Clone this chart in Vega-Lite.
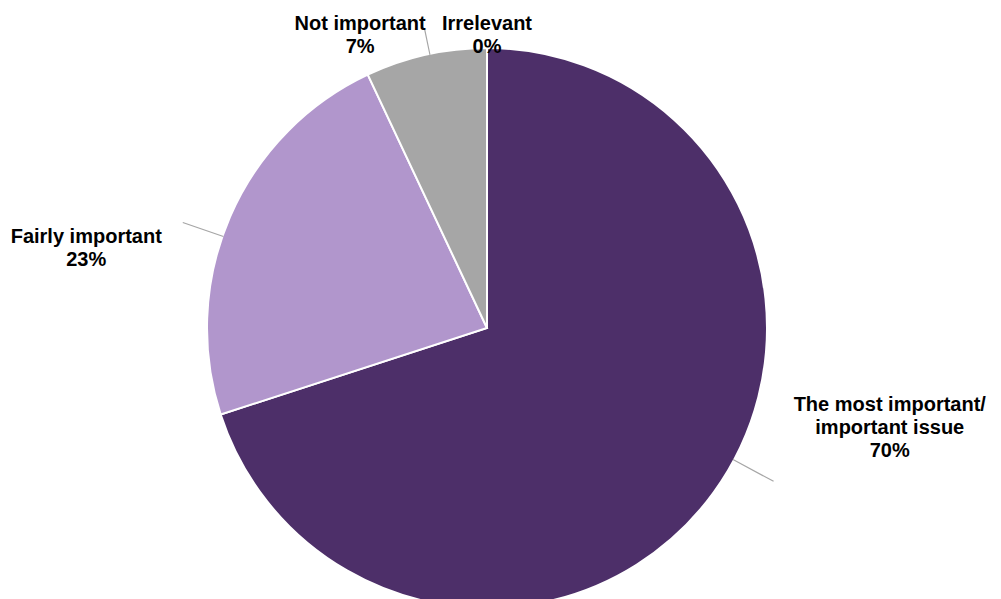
{
  "$schema": "https://vega.github.io/schema/vega-lite/v6.json",
  "autosize": {"type": "none"},
  "width": 974,
  "height": 542,
  "padding": {"left": 0, "right": 27, "top": 57, "bottom": 0},
  "background": "white",
  "config": {"view": {"stroke": null}},
  "data": {
    "values": [
      {"cat": "The most important/ important issue", "label": "The most important/\nimportant issue\n70%", "value": 70, "ord": 1},
      {"cat": "Fairly important", "label": "Fairly important\n23%", "value": 23, "ord": 2},
      {"cat": "Not important", "label": "Not important\n7%", "value": 7, "ord": 3},
      {"cat": "Irrelevant", "label": "Irrelevant\n0%", "value": 0, "ord": 4}
    ]
  },
  "transform": [
    {"stack": "value", "groupby": [], "sort": [{"field": "ord", "order": "ascending"}], "as": ["v0", "v1"]}
  ],
  "layer": [
    {
      "mark": {"type": "arc", "outerRadius": 280, "stroke": "white", "strokeWidth": 2},
      "encoding": {
        "theta": {"field": "v0", "type": "quantitative", "scale": {"domain": [0, 100]}},
        "theta2": {"field": "v1"},
        "color": {
          "field": "cat", "type": "nominal", "legend": null,
          "scale": {
            "domain": ["The most important/ important issue", "Fairly important", "Not important", "Irrelevant"],
            "range": ["#4D2F69", "#B196CC", "#A6A6A6", "#7F7F7F"]
          }
        }
      }
    },
    {
      "transform": [{"filter": "datum.ord == 3"}],
      "mark": {"type": "arc", "innerRadius": 279, "outerRadius": 305, "fill": "#A6A6A6", "thetaOffset": 0.232, "theta2Offset": 0.236},
      "encoding": {"theta": {"field": "v0", "type": "quantitative"}, "theta2": {"field": "v0"}}
    },
    {
      "transform": [{"filter": "datum.ord == 2"}],
      "mark": {"type": "arc", "innerRadius": 279, "outerRadius": 322, "fill": "#A6A6A6", "thetaOffset": 0.646, "theta2Offset": 0.65},
      "encoding": {"theta": {"field": "v0", "type": "quantitative"}, "theta2": {"field": "v0"}}
    },
    {
      "transform": [{"filter": "datum.ord == 1"}],
      "mark": {"type": "arc", "innerRadius": 279, "outerRadius": 325, "fill": "#A6A6A6", "thetaOffset": 2.06, "theta2Offset": 2.064},
      "encoding": {"theta": {"field": "v0", "type": "quantitative"}, "theta2": {"field": "v0"}}
    },
    {
      "transform": [{"filter": "datum.ord == 1"}],
      "mark": {"type": "text", "radius": 410, "thetaOffset": 1.759, "font": "Liberation Sans", "fontWeight": "bold", "fontSize": 20, "lineHeight": 23, "lineBreak": "\n", "align": "center", "baseline": "middle", "color": "black"},
      "encoding": {"theta": {"field": "v0", "type": "quantitative"}, "text": {"field": "label"}}
    },
    {
      "transform": [{"filter": "datum.ord == 2"}],
      "mark": {"type": "text", "radius": 411, "thetaOffset": 0.538, "font": "Liberation Sans", "fontWeight": "bold", "fontSize": 20, "lineHeight": 23, "lineBreak": "\n", "align": "center", "baseline": "middle", "color": "black"},
      "encoding": {"theta": {"field": "v0", "type": "quantitative"}, "text": {"field": "label"}}
    },
    {
      "transform": [{"filter": "datum.ord == 3"}],
      "mark": {"type": "text", "radius": 329, "thetaOffset": 0.044, "font": "Liberation Sans", "fontWeight": "bold", "fontSize": 20, "lineHeight": 23, "lineBreak": "\n", "align": "center", "baseline": "middle", "color": "black"},
      "encoding": {"theta": {"field": "v0", "type": "quantitative"}, "text": {"field": "label"}}
    },
    {
      "transform": [{"filter": "datum.ord == 4"}],
      "mark": {"type": "text", "radius": 304, "font": "Liberation Sans", "fontWeight": "bold", "fontSize": 20, "lineHeight": 23, "lineBreak": "\n", "align": "center", "baseline": "middle", "color": "black"},
      "encoding": {"theta": {"field": "v0", "type": "quantitative"}, "text": {"field": "label"}}
    }
  ]
}
